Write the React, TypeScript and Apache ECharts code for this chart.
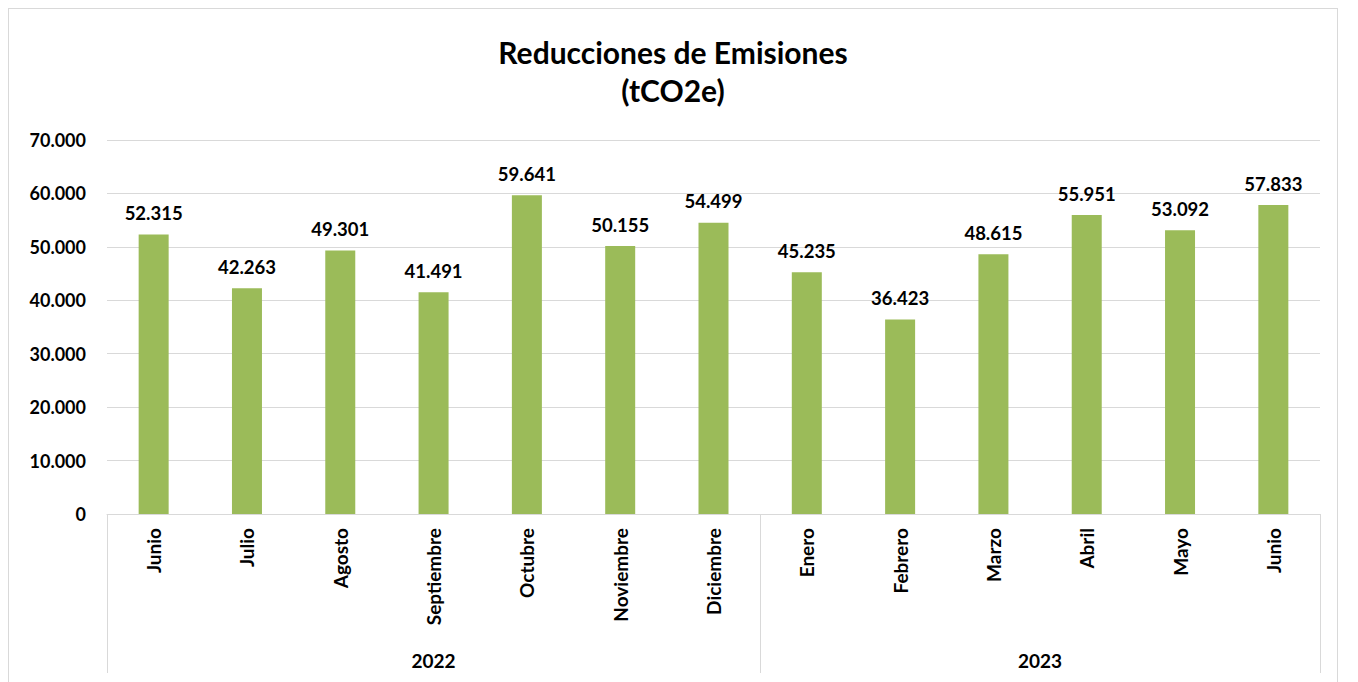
import React, { useEffect, useRef } from "react";
import * as echarts from "echarts";

const months = [
  "Junio", "Julio", "Agosto", "Septiembre", "Octubre", "Noviembre", "Diciembre",
  "Enero", "Febrero", "Marzo", "Abril", "Mayo", "Junio",
];
const values = [52315, 42263, 49301, 41491, 59641, 50155, 54499, 45235, 36423, 48615, 55951, 53092, 57833];
const yearLabels = ["2022", "2023"];
const yearCounts = [7, 6];
const titleText = "Reducciones de Emisiones\n(tCO2e)";

const FONT = "Lato, 'Open Sans', sans-serif";
const fmt = (v: number) => (v === 0 ? "0" : v.toLocaleString("de-DE"));

export default function App() {
  const ref = useRef<HTMLDivElement>(null);
  useEffect(() => {
    if (!ref.current) return;
    const chart = echarts.init(ref.current, undefined, { renderer: "svg" });
    chart.setOption({
      animation: false,
      backgroundColor: "#ffffff",
      title: {
        text: titleText,
        left: "center",
        top: 19,
        textStyle: { fontFamily: FONT, fontSize: 30, fontWeight: "bold", color: "#000", lineHeight: 38 },
      },
      grid: { left: 98, right: 17, top: 131, bottom: 168, containLabel: false },
      xAxis: {
        type: "category",
        data: months,
        axisLine: { show: true, lineStyle: { color: "#d9d9d9", width: 1 } },
        axisTick: { show: false },
        axisLabel: {
          rotate: 90,
          interval: 0,
          margin: 14,
          fontFamily: FONT,
          fontSize: 19,
          fontWeight: "bold",
          color: "#000",
        },
      },
      yAxis: {
        type: "value",
        min: 0,
        max: 70000,
        interval: 10000,
        axisLine: { show: false },
        axisTick: { show: false },
        splitLine: { lineStyle: { color: "#d9d9d9", width: 1 } },
        axisLabel: {
          formatter: (v: number) => fmt(v),
          margin: 21,
          fontFamily: FONT,
          fontSize: 18,
          fontWeight: "bold",
          color: "#000",
        },
      },
      series: [
        {
          type: "bar",
          data: values,
          barWidth: 30,
          itemStyle: { color: "#9BBB59" },
          label: {
            show: true,
            position: "top",
            distance: 12,
            formatter: (p: any) => fmt(p.value),
            fontFamily: FONT,
            fontSize: 18.5,
            fontWeight: "bold",
            color: "#000",
          },
        },
      ],
    });

    const px = (i: number) => chart.convertToPixel({ xAxisIndex: 0 }, i) as number;
    const py = (v: number) => chart.convertToPixel({ yAxisIndex: 0 }, v) as number;
    const step = px(1) - px(0);
    const y0 = py(0);
    const yEnd = y0 + 159;
    const graphics: any[] = [];
    let start = 0;
    const boundaries: number[] = [px(0) - step / 2];
    yearLabels.forEach((lab, gi) => {
      const end = start + yearCounts[gi];
      const left = px(start) - step / 2;
      const right = px(end - 1) + step / 2;
      boundaries.push(right);
      graphics.push({
        type: "text",
        x: (left + right) / 2,
        y: y0 + 146,
        style: {
          text: lab,
          fontFamily: FONT,
          fontSize: 19,
          fontWeight: "bold",
          fill: "#000",
          textAlign: "center",
          textVerticalAlign: "middle",
        },
      });
      start = end;
    });
    boundaries.forEach((bx) => {
      graphics.push({
        type: "line",
        shape: { x1: Math.round(bx) + 0.5, y1: y0, x2: Math.round(bx) + 0.5, y2: yEnd },
        style: { stroke: "#d9d9d9", lineWidth: 1 },
      });
    });
    chart.setOption({ graphic: graphics });

    return () => chart.dispose();
  }, []);

  return (
    <div
      ref={ref}
      style={{
        width: 1330,
        height: 674,
        borderTop: "1px solid #d9d9d9",
        borderLeft: "1px solid #d9d9d9",
        borderRight: "1px solid #d9d9d9",
        boxSizing: "border-box",
      }}
    />
  );
}
